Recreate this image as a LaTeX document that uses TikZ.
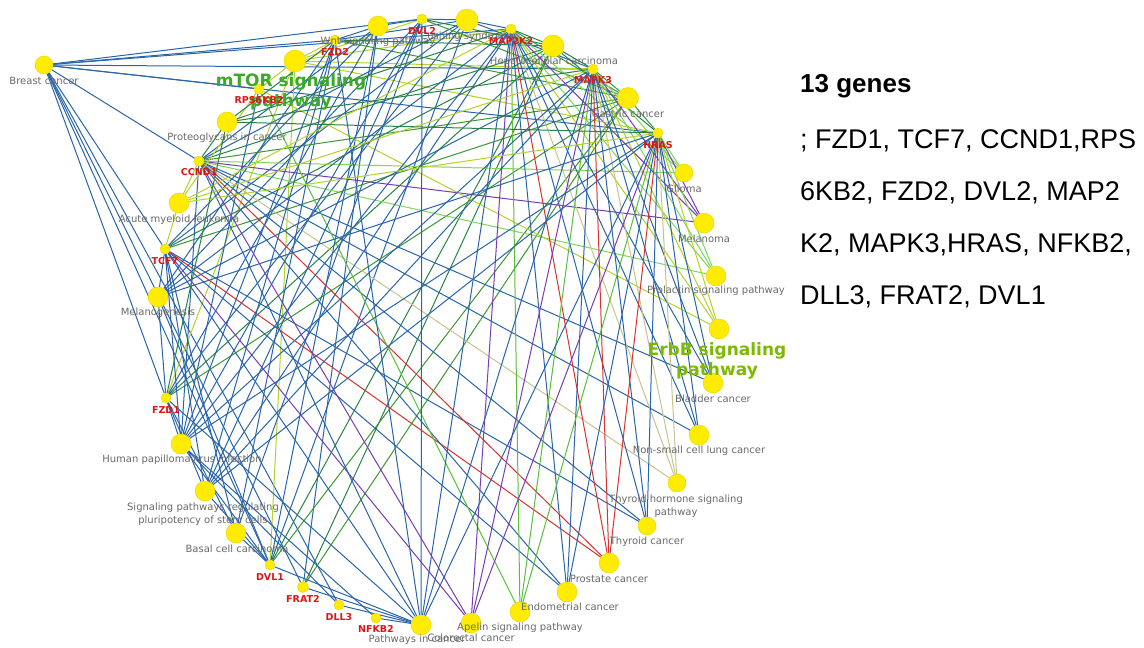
\documentclass[tikz,border=0pt]{standalone}
\usepackage{fontspec}
\newfontfamily\netfont{DejaVu Sans}
\newfontfamily\arialfont{Liberation Sans}
\usetikzlibrary{backgrounds}

\definecolor{nodeyellow}{RGB}{255,236,0}
\definecolor{nodeedge}{RGB}{230,210,0}
\definecolor{labelgrey}{RGB}{105,105,105}
\definecolor{genered}{RGB}{225,20,20}
\definecolor{mtorgreen}{RGB}{60,170,40}
\definecolor{erbbgreen}{RGB}{125,185,0}
\definecolor{cblue}{RGB}{40,100,170}
\definecolor{cdkgreen}{RGB}{40,130,70}
\definecolor{cgreen}{RGB}{60,150,50}
\definecolor{cygreen}{RGB}{180,210,40}
\definecolor{clgreen}{RGB}{125,215,90}
\definecolor{capelin}{RGB}{90,190,60}
\definecolor{cpurple}{RGB}{120,60,180}
\definecolor{cred}{RGB}{215,50,45}
\definecolor{ctan}{RGB}{200,195,140}

\tikzset{
  pw/.style={circle, fill=nodeyellow, draw=nodeedge, line width=0.4pt, inner sep=0pt, minimum size=20pt},
  gn/.style={circle, fill=nodeyellow, draw=nodeedge, line width=0.4pt, inner sep=0pt, minimum size=10pt},
  lbl/.style={font=\netfont\fontsize{10}{13}\selectfont, text=labelgrey, inner sep=0pt, align=center},
  glbl/.style={font=\netfont\bfseries\fontsize{9.5}{11}\selectfont, text=genered, inner sep=0pt},
  hilite/.style={font=\netfont\bfseries\fontsize{17}{20}\selectfont, inner sep=0pt, align=center},
  side/.style={font=\arialfont\fontsize{27}{30}\selectfont, anchor=base west, inner sep=0pt},
  link/.style={line width=1pt, draw=#1}
}

\begin{document}
\begin{tikzpicture}[x=1pt, y=-1pt]
\useasboundingbox (0,0) rectangle (1144,648);

% pathway nodes around the circle
\node[pw, minimum size=18pt] (breast)     at (44,65)   {};
\node[pw, minimum size=22pt] (mtor)       at (295,61)  {};
\node[pw]                    (wnt)        at (378,26)  {};
\node[pw, minimum size=22pt] (cushing)    at (467,20)  {};
\node[pw, minimum size=22pt] (hcc)        at (553,46)  {};
\node[pw, minimum size=21pt] (gastric)    at (628,98)  {};
\node[pw, minimum size=18pt] (glioma)     at (684,173) {};
\node[pw]                    (melanoma)   at (704,223) {};
\node[pw]                    (prolactin)  at (716,276) {};
\node[pw]                    (erbb)       at (719,329) {};
\node[pw]                    (bladder)    at (713,383) {};
\node[pw]                    (nsclc)      at (699,435) {};
\node[pw, minimum size=18pt] (thyhorm)    at (677,483) {};
\node[pw, minimum size=18pt] (thycan)     at (647,526) {};
\node[pw]                    (prostate)   at (609,563) {};
\node[pw]                    (endo)       at (567,592) {};
\node[pw]                    (apelin)     at (520,612) {};
\node[pw]                    (colorectal) at (471,623) {};
\node[pw]                    (pic)        at (421,625) {};
\node[pw]                    (basal)      at (236,533) {};
\node[pw]                    (pluri)      at (205,491) {};
\node[pw]                    (hpv)        at (181,444) {};
\node[pw]                    (melgen)     at (158,297) {};
\node[pw]                    (aml)        at (179,203) {};
\node[pw]                    (proteo)     at (227,122) {};

% gene nodes
\node[gn] (fzdB) at (335,40)  {};
\node[gn] (dvlB) at (422,19)  {};
\node[gn] (mek)  at (511,29)  {};
\node[gn] (erk)  at (593,69)  {};
\node[gn] (hras) at (658,133) {};
\node[gn] (rps)  at (259,89)  {};
\node[gn] (ccnd) at (199,161) {};
\node[gn] (tcf)  at (165,249) {};
\node[gn] (fzdA) at (166,398) {};
\node[gn] (dvlA) at (270,565) {};
\node[gn, minimum size=11pt] (frat) at (303,587) {};
\node[gn] (dll)  at (339,605) {};
\node[gn] (nfkb) at (376,618) {};

% gene-pathway links, coloured by pathway
\begin{scope}[on background layer]
\foreach \p/\c/\gs in {
  breast/cblue/{fzdA,fzdB,tcf,ccnd,rps,dvlA,dvlB,mek,erk,hras,frat,dll},
  mtor/cygreen/{fzdA,fzdB,dvlA,dvlB,mek,erk,hras,rps},
  wnt/cblue/{fzdA,fzdB,tcf,ccnd,dvlA,dvlB,frat},
  cushing/cblue/{fzdA,fzdB,tcf,ccnd,dvlA,dvlB,mek,erk},
  hcc/cdkgreen/{fzdA,fzdB,tcf,ccnd,dvlA,dvlB,mek,erk,hras,frat},
  gastric/cgreen/{fzdA,fzdB,tcf,ccnd,dvlA,dvlB,mek,erk,hras,frat},
  glioma/clgreen/{ccnd,mek,erk,hras},
  melanoma/cpurple/{ccnd,mek,erk,hras},
  prolactin/clgreen/{ccnd,mek,erk,hras},
  erbb/cygreen/{mek,erk,hras,rps},
  bladder/cblue/{ccnd,mek,erk,hras},
  nsclc/cblue/{ccnd,mek,erk,hras},
  thyhorm/ctan/{ccnd,mek,erk,hras},
  thycan/cblue/{tcf,ccnd,mek,erk,hras},
  prostate/cred/{tcf,ccnd,mek,erk,hras},
  endo/cblue/{tcf,ccnd,mek,erk,hras},
  apelin/capelin/{mek,erk,hras,rps},
  colorectal/cpurple/{tcf,ccnd,mek,erk,hras},
  pic/cblue/{fzdA,fzdB,tcf,ccnd,dvlA,dvlB,mek,erk,hras,nfkb,dll,frat},
  basal/cblue/{fzdA,fzdB,tcf,dvlA,dvlB},
  pluri/cblue/{fzdA,fzdB,tcf,dvlA,dvlB,mek,erk,hras},
  hpv/cblue/{fzdA,fzdB,tcf,ccnd,dvlA,dvlB,mek,erk,hras,nfkb,dll,rps},
  melgen/cblue/{fzdA,fzdB,tcf,dvlA,dvlB,mek,erk,hras},
  aml/cygreen/{tcf,ccnd,mek,erk,hras,rps},
  proteo/cdkgreen/{fzdA,fzdB,ccnd,mek,erk,hras}}
{
  \foreach \g in \gs { \draw[link=\c] (\g) -- (\p); }
}
\end{scope}

% pathway labels
\node[lbl] (breast-l)     at (44,81)   {Breast cancer};
\node[lbl] (wnt-l)        at (378,42)  {Wnt signaling pathway};
\node[lbl] (cushing-l)    at (467,37)  {Cushing syndrome};
\node[lbl] (hcc-l)        at (554,62)  {Hepatocellular carcinoma};
\node[lbl] (gastric-l)    at (628,114) {Gastric cancer};
\node[lbl] (glioma-l)     at (684,189) {Glioma};
\node[lbl] (melanoma-l)   at (704,239) {Melanoma};
\node[lbl] (prolactin-l)  at (716,291) {Prolactin signaling pathway};
\node[lbl] (bladder-l)    at (713,399) {Bladder cancer};
\node[lbl] (nsclc-l)      at (699,451) {Non-small cell lung cancer};
\node[lbl] (thyhorm-l)    at (676,506) {Thyroid hormone signaling\\pathway};
\node[lbl] (thycan-l)     at (647,542) {Thyroid cancer};
\node[lbl] (prostate-l)   at (609,579) {Prostate cancer};
\node[lbl] (endo-l)       at (570,607) {Endometrial cancer};
\node[lbl] (apelin-l)     at (520,628) {Apelin signaling pathway};
\node[lbl] (colorectal-l) at (471,638) {Colorectal cancer};
\node[lbl] (pic-l)        at (417,640) {Pathways in cancer};
\node[lbl] (basal-l)      at (237,549) {Basal cell carcinoma};
\node[lbl] (pluri-l)      at (203,514) {Signaling pathways regulating\\pluripotency of stem cells};
\node[lbl] (hpv-l)        at (182,460) {Human papillomavirus infection};
\node[lbl] (melgen-l)     at (158,313) {Melanogenesis};
\node[lbl] (aml-l)        at (179,220) {Acute myeloid leukemia};
\node[lbl] (proteo-l)     at (227,138) {Proteoglycans in cancer};

% highlighted pathway labels
\node[hilite, text=mtorgreen] (mtor-l) at (291,92)  {mTOR signaling\\pathway};
\node[hilite, text=erbbgreen] (erbb-l) at (717,361) {ErbB signaling\\pathway};

% gene labels
\node[glbl] (fzdB-l) at (335,52)  {FZD2};
\node[glbl] (dvlB-l) at (422,31)  {DVL2};
\node[glbl] (mek-l)  at (511,41)  {MAP2K2};
\node[glbl] (erk-l)  at (593,80)  {MAPK3};
\node[glbl] (hras-l) at (658,145) {HRAS};
\node[glbl] (rps-l)  at (259,100) {RPS6KB2};
\node[glbl] (ccnd-l) at (199,172) {CCND1};
\node[glbl] (tcf-l)  at (165,261) {TCF7};
\node[glbl] (fzdA-l) at (166,410) {FZD1};
\node[glbl] (dvlA-l) at (270,577) {DVL1};
\node[glbl] (frat-l) at (303,599) {FRAT2};
\node[glbl] (dll-l)  at (339,617) {DLL3};
\node[glbl] (nfkb-l) at (376,629) {NFKB2};

% gene list at the right
\node[side, font=\arialfont\bfseries\fontsize{26}{30}\selectfont] (title) at (800,92) {13 genes};
\node[side] (list1) at (800,148) {; FZD1, TCF7, CCND1,RPS};
\node[side] (list2) at (800,200) {6KB2, FZD2, DVL2, MAP2};
\node[side] (list3) at (800,252) {K2, MAPK3,HRAS, NFKB2,};
\node[side] (list4) at (800,304) {DLL3, FRAT2, DVL1};
\end{tikzpicture}
\end{document}
